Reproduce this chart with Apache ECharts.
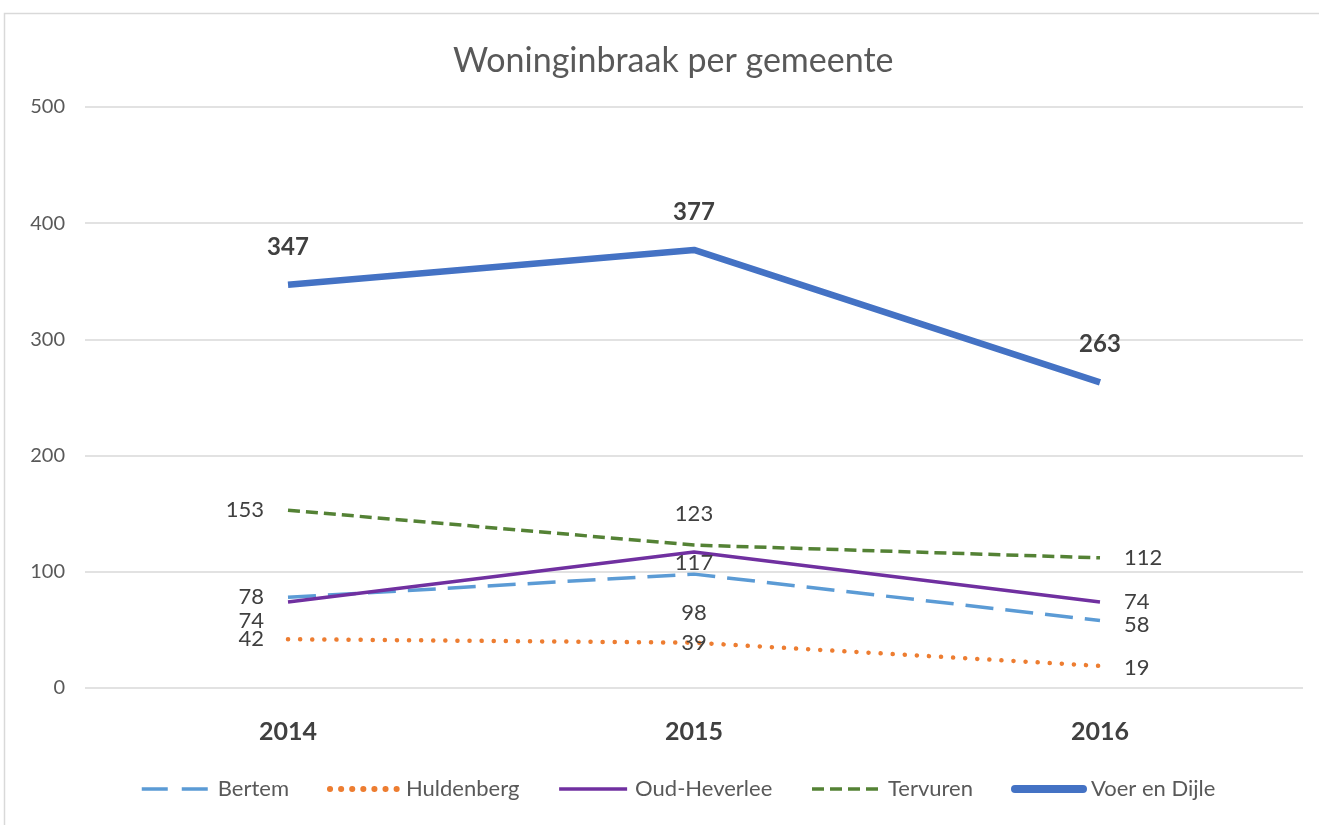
<!DOCTYPE html>
<html>
<head>
<meta charset="utf-8">
<script src="https://cdn.jsdelivr.net/npm/echarts@6/dist/echarts.min.js"></script>
<style>
  html, body { margin: 0; padding: 0; background: #fff; }
  #main { width: 1319px; height: 825px; }
</style>
</head>
<body>
<div id="main"></div>
<script>
// jaren
let years = ['2014', '2015', '2016']
let yTicks = [0, 100, 200, 300, 400, 500]

// waarden per gemeente
let bertem = [78, 98, 58]
let huldenberg = [42, 39, 19]
let oudHeverlee = [74, 117, 74]
let tervuren = [153, 123, 112]
let voerEnDijle = [347, 377, 263]

let FONT = 'Lato'
let myChart = echarts.init(document.getElementById('main'))

// label per punt: [positie, offset]
function withLabels (values, places) {
    return values.map(function (v, i) {
        return {
            value: v,
            label: { position: places[i][0], offset: places[i][1] || [0, 0] }
        }
    })
}

let labelStyle = {
    show: true,
    fontFamily: FONT,
    fontSize: 22,
    color: '#404040',
    distance: 24
}

// lijnstijlen per gemeente
let styles = {
    'Bertem': { color: '#5B9BD5', width: 3.5, type: [28, 12] },
    'Huldenberg': { color: '#ED7D31', width: 4.5, type: [0.1, 12], cap: 'round' },
    'Oud-Heverlee': { color: '#7030A0', width: 3.5 },
    'Tervuren': { color: '#548235', width: 3.5, type: [12, 6] },
    'Voer en Dijle': { color: '#4472C4', width: 6.5 }
}

// gemeenschappelijke instellingen voor de lijnen
function lineSeries (name, values, places, label) {
    return {
        name: name,
        type: 'line',
        symbol: 'circle',
        symbolSize: 0,
        showSymbol: true,
        data: withLabels(values, places),
        lineStyle: styles[name],
        itemStyle: { color: styles[name].color },
        label: label || labelStyle
    }
}

// legende iconen in dezelfde stijl als de lijnen
let legendData = Object.keys(styles).map(function (name) {
    let s = styles[name]
    let ls = { color: s.color, width: s.width, type: s.type || 'solid', cap: s.cap || 'butt' }
    if (name === 'Huldenberg') {
        ls.width = 6
        ls.type = [0.1, 11]
    }
    if (name === 'Voer en Dijle') {
        ls.width = 8
        ls.cap = 'round'
    }
    if (name === 'Bertem') {
        ls.type = [26, 14]
    }
    return { name: name, lineStyle: ls }
})

myChart.setOption({
    animation: false,
    title: {
        text: 'Woninginbraak per gemeente',
        left: 448,
        top: 39,
        textStyle: { fontFamily: FONT, fontSize: 34, fontWeight: 'normal', color: '#595959' }
    },
    graphic: [{
        type: 'rect',
        shape: { x: 4.5, y: 13.5, width: 1330, height: 830 },
        style: { fill: 'none', stroke: '#d9d9d9', lineWidth: 1.5 },
        silent: true
    }],
    legend: {
        data: legendData,
        bottom: 20,
        left: 135,
        itemWidth: 68,
        itemHeight: 14,
        itemGap: 38,
        itemStyle: { opacity: 0 },
        textStyle: { fontFamily: FONT, fontSize: 22, color: '#595959', padding: [0, 0, 0, 3] }
    },
    grid: { left: 85, right: 16, top: 107, bottom: 137 },
    xAxis: {
        type: 'category',
        data: years,
        axisLine: { show: false },
        axisTick: { show: false },
        axisLabel: { fontFamily: FONT, fontSize: 25, fontWeight: 'bold', color: '#404040', margin: 31 }
    },
    yAxis: {
        type: 'value',
        min: yTicks[0],
        max: yTicks[yTicks.length - 1],
        interval: 100,
        splitLine: { lineStyle: { color: '#d9d9d9', width: 1.5 } },
        axisLabel: { fontFamily: FONT, fontSize: 20, color: '#595959', margin: 20 }
    },
    series: [
        lineSeries('Bertem', bertem, [['left'], ['bottom', [0, 4]], ['right', [0, 4]]]),
        lineSeries('Huldenberg', huldenberg, [['left'], ['inside'], ['right', [0, 2]]]),
        lineSeries('Oud-Heverlee', oudHeverlee, [['left', [0, 19]], ['inside', [0, 11]], ['right']]),
        lineSeries('Tervuren', tervuren, [['left'], ['top', [0, 4]], ['right']]),
        lineSeries('Voer en Dijle', voerEnDijle, [['top'], ['top'], ['top']],
            Object.assign({}, labelStyle, { fontWeight: 'bold', fontSize: 24, distance: 26 }))
    ]
})
</script>
</body>
</html>
